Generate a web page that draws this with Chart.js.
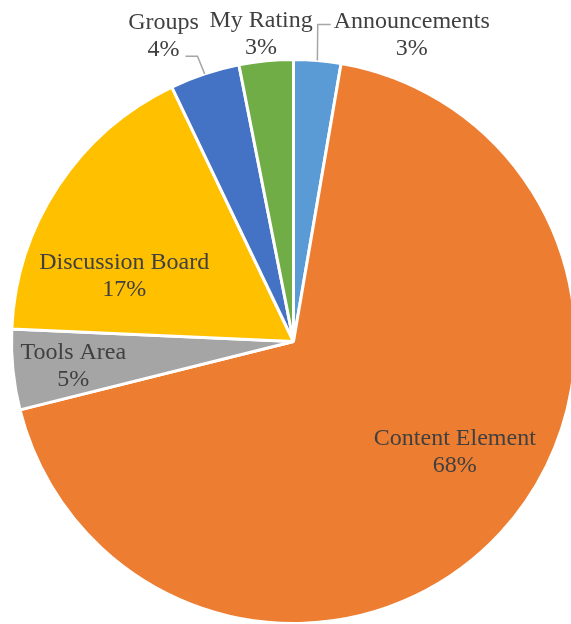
<!DOCTYPE html>
<html>
<head>
<meta charset="utf-8">
<title>Usage share</title>
<script src="https://cdn.jsdelivr.net/npm/chart.js@4"></script>
<style>
  html, body { margin: 0; padding: 0; background: #fff; overflow: hidden; }
  #wrap { position: relative; width: 571px; height: 624px; overflow: hidden; }
  #myChart { position: absolute; left: 0; top: 0; }
</style>
</head>
<body>
<div id="wrap">
  <canvas id="myChart" width="588" height="684"></canvas>
</div>
<script>
// data, clockwise from 12 o'clock (percent of clicks)
const categories = ['Announcements', 'Content Element', 'Tools Area', 'Discussion Board', 'Groups', 'My Rating'];
const shares = [2.7, 68.4, 4.6, 17.2, 4.0, 3.1];
const colors = ['#5B9BD5', '#ED7D31', '#A5A5A5', '#FFC000', '#4472C4', '#70AD47'];

// where each label sits: [angle from top in degrees, distance as fraction of radius]
const labelAt = [[21, 1.17], [124, 0.69], [264, 0.785], [291.5, 0.645], [337, 1.18], [354, 1.10]];
// leader lines ending near the label: [dx, dy from label centre, elbow dx] or null
const leaders = [[-81, -9, -13], null, null, null, [22, 21, 12], null];

const labelPlugin = {
  id: 'pieLabels',
  afterDatasetsDraw(chart) {
    const ctx = chart.ctx;
    const arcs = chart.getDatasetMeta(0).data;
    const total = shares.reduce((a, b) => a + b, 0);
    ctx.save();
    ctx.font = '24px "Liberation Serif", "Times New Roman", serif';
    ctx.fillStyle = '#404040';
    ctx.textAlign = 'center';
    ctx.textBaseline = 'middle';
    arcs.forEach((arc, i) => {
      const r = arc.outerRadius;
      const a = labelAt[i][0] * Math.PI / 180;
      const cx = arc.x + Math.sin(a) * r * labelAt[i][1];
      const cy = arc.y - Math.cos(a) * r * labelAt[i][1];
      ctx.fillText(categories[i], cx, cy - 12);
      ctx.fillText(Math.round(shares[i] / total * 100) + '%', cx, cy + 15);

      if (leaders[i]) {
        const mid = (arc.startAngle + arc.endAngle) / 2;
        const sx = arc.x + Math.cos(mid) * r;
        const sy = arc.y + Math.sin(mid) * r;
        const ex = cx + leaders[i][0];
        const ey = cy + leaders[i][1];
        ctx.beginPath();
        ctx.strokeStyle = '#A6A6A6';
        ctx.lineWidth = 1.5;
        ctx.moveTo(sx, sy);
        ctx.lineTo(ex + leaders[i][2], ey);
        ctx.lineTo(ex, ey);
        ctx.stroke();
      }
    });
    ctx.restore();
  }
};

const ctx = document.getElementById('myChart').getContext('2d');
const chart = new Chart(ctx, {
  type: 'pie',
  data: {
    labels: categories,
    datasets: [{
      data: shares,
      backgroundColor: colors,
      borderColor: '#ffffff',
      borderWidth: 3,
      hoverOffset: 0,
      offset: 0
    }]
  },
  options: {
    responsive: false,
    animation: false,
    layout: { padding: { left: 10, right: 11, top: 58, bottom: 59 } },
    plugins: {
      legend: { display: false },
      tooltip: { enabled: false }
    }
  },
  plugins: [labelPlugin]
});
</script>
</body>
</html>
